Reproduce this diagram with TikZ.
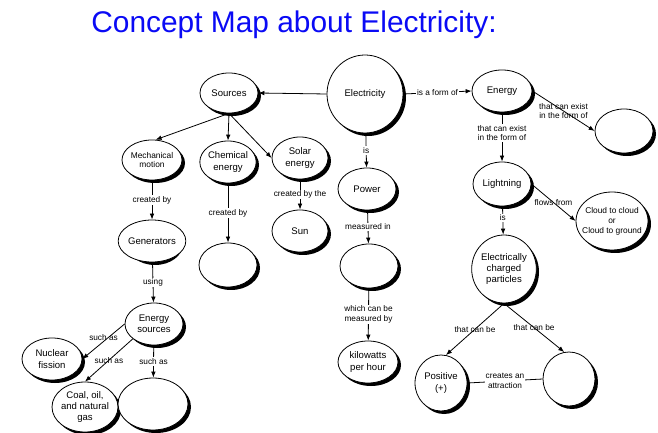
\documentclass[tikz,border=0pt]{standalone}
\usepackage{fontspec}
\setmainfont{Liberation Sans}
\usetikzlibrary{shapes.geometric,arrows.meta}
\definecolor{titleblue}{RGB}{10,10,245}

\begin{document}
\begin{tikzpicture}[x=1bp,y=-1bp,
  concept/.style={ellipse, draw=black, line width=0.8bp, fill=white,
    inner sep=0pt, align=center, font=\fontsize{9.6}{11.5}\selectfont},
  conceptshadow/.style={fill=black},
  small/.style={font=\fontsize{8.4}{10}\selectfont},
  lbl/.style={font=\fontsize{8.3}{9.6}\selectfont, align=center, inner sep=1bp, fill=white},
  lblc/.style={lbl, fill=none},
  arr/.style={-{Latex[length=6bp,width=4.6bp]}, line width=0.8bp},
  link/.style={line width=0.8bp}]

\useasboundingbox (0,0) rectangle (658,433);

% title
\node[font=\fontsize{30}{32}\selectfont, text=titleblue, anchor=base, inner sep=0pt]
  (title) at (294,33) {Concept Map about Electricity:};

% shadows under the concepts, 3bp right and down
\fill[conceptshadow] (368,97) ellipse [x radius=38, y radius=39];
\fill[conceptshadow] (232,96) ellipse [x radius=29, y radius=20];
\fill[conceptshadow] (505,94) ellipse [x radius=30, y radius=21];
\fill[conceptshadow] (627,134) ellipse [x radius=29, y radius=22];
\fill[conceptshadow] (505,187) ellipse [x radius=29, y radius=22];
\fill[conceptshadow] (615,224) ellipse [x radius=36, y radius=29];
\fill[conceptshadow] (507,272) ellipse [x radius=32, y radius=34];
\fill[conceptshadow] (444,386) ellipse [x radius=26, y radius=28];
\fill[conceptshadow] (572,382) ellipse [x radius=26, y radius=27];
\fill[conceptshadow] (370,192) ellipse [x radius=29, y radius=21];
\fill[conceptshadow] (372,269) ellipse [x radius=29, y radius=22];
\fill[conceptshadow] (371,365) ellipse [x radius=30, y radius=21];
\fill[conceptshadow] (155,163) ellipse [x radius=30, y radius=20];
\fill[conceptshadow] (231,165) ellipse [x radius=28, y radius=21];
\fill[conceptshadow] (303,161) ellipse [x radius=28, y radius=21];
\fill[conceptshadow] (303,234) ellipse [x radius=28, y radius=21];
\fill[conceptshadow] (155,244) ellipse [x radius=28, y radius=21];
\fill[conceptshadow] (231,268) ellipse [x radius=29, y radius=22];
\fill[conceptshadow] (157,327) ellipse [x radius=29, y radius=21];
\fill[conceptshadow] (55,362) ellipse [x radius=30, y radius=21];
\fill[conceptshadow] (88,410) ellipse [x radius=33, y radius=25];
\fill[conceptshadow] (156,407) ellipse [x radius=35, y radius=26];

% concepts
\node[concept, minimum width=76bp, minimum height=78bp] (elec) at (365,94) {Electricity};
\node[concept, minimum width=58bp, minimum height=40bp] (src) at (229,93) {Sources};
\node[concept, minimum width=60bp, minimum height=42bp] (energy) at (502,91) {Energy};
\node[concept, minimum width=58bp, minimum height=44bp] (form) at (624,131) {};
\node[concept, minimum width=58bp, minimum height=44bp] (light) at (502,184) {Lightning};
\node[concept, minimum width=72bp, minimum height=58bp, small, inner xsep=-7bp, inner ysep=-4bp] (cloud) at (612,221) {Cloud to cloud\\or\\Cloud to ground};
\node[concept, minimum width=64bp, minimum height=68bp] (charged) at (504,269) {Electrically\\charged\\particles};
\node[concept, minimum width=52bp, minimum height=56bp] (pos) at (441,383) {Positive\\(+)};
\node[concept, minimum width=52bp, minimum height=54bp] (neg) at (569,379) {};
\node[concept, minimum width=58bp, minimum height=42bp] (power) at (367,189) {Power};
\node[concept, minimum width=58bp, minimum height=44bp] (unit) at (369,266) {};
\node[concept, minimum width=60bp, minimum height=42bp] (kwh) at (368,362) {kilowatts\\per hour};
\node[concept, minimum width=60bp, minimum height=40bp, small] (mech) at (152,160) {Mechanical\\motion};
\node[concept, minimum width=56bp, minimum height=42bp] (chem) at (228,162) {Chemical\\energy};
\node[concept, minimum width=56bp, minimum height=42bp] (solar) at (300,158) {Solar\\energy};
\node[concept, minimum width=56bp, minimum height=42bp] (sun) at (300,231) {Sun};
\node[concept, minimum width=56bp, minimum height=42bp] (gen) at (152,241) {Generators};
\node[concept, minimum width=58bp, minimum height=44bp] (chemsrc) at (228,265) {};
\node[concept, minimum width=58bp, minimum height=42bp] (esrc) at (154,324) {Energy\\sources};
\node[concept, minimum width=60bp, minimum height=42bp] (nuc) at (52,359) {Nuclear\\fission};
\node[concept, minimum width=66bp, minimum height=50bp, inner sep=-3bp] (coal) at (85,407) {Coal, oil,\\and natural\\gas};
\node[concept, minimum width=70bp, minimum height=52bp] (other) at (153,404) {};

% links
\draw[arr] (elec.west) -- (src.east);
\draw[arr] (elec.east) -- node[lbl] {is a form of} (energy.west);
\draw[arr] (elec) -- node[lbl] {is} (power);

\draw[arr] (src.south) -- (mech.80);
\draw[arr] (src.south) -- (chem.north);
\draw[arr] (src.south) -- (solar.west);

\draw[arr] (mech) -- node[lbl] {created by} (gen);
\draw[arr] (chem) -- node[lbl] {created by} (chemsrc);
\draw[arr] (solar) -- node[lbl] {created by the} (sun);
\draw[arr] (gen) -- node[lbl] {using} (esrc);

\draw[arr] (esrc.west) -- node[lblc, above, inner sep=0.5bp] {such as} (nuc.east);
\draw[arr] (esrc.215) -- node[lblc] {such as} (coal.north);
\draw[arr] (esrc) -- node[lbl] {such as} (other);

\draw[arr] (power) -- node[lbl] {measured in} (unit);
\draw[arr] (unit) -- node[lbl] {which can be\\measured by} (kwh);

\draw[arr] (energy) -- node[lbl, pos=0.42] {that can exist\\in the form of} (light);
\draw[arr] (energy.east) -- node[lblc] {that can exist\\in the form of} (form.west);
\draw[arr] (light.east) -- node[lblc] {flows from} (cloud.west);
\draw[arr] (light) -- node[lbl, pos=0.4] {is} (charged);

\draw[arr] (charged.south) -- node[lblc] {that can be} (pos.80);
\draw[arr] (charged.south) -- node[lblc] {that can be} (neg.100);
\draw[link] (pos.east) -- node[lbl] {creates an\\attraction} (neg.west);
\end{tikzpicture}
\end{document}
